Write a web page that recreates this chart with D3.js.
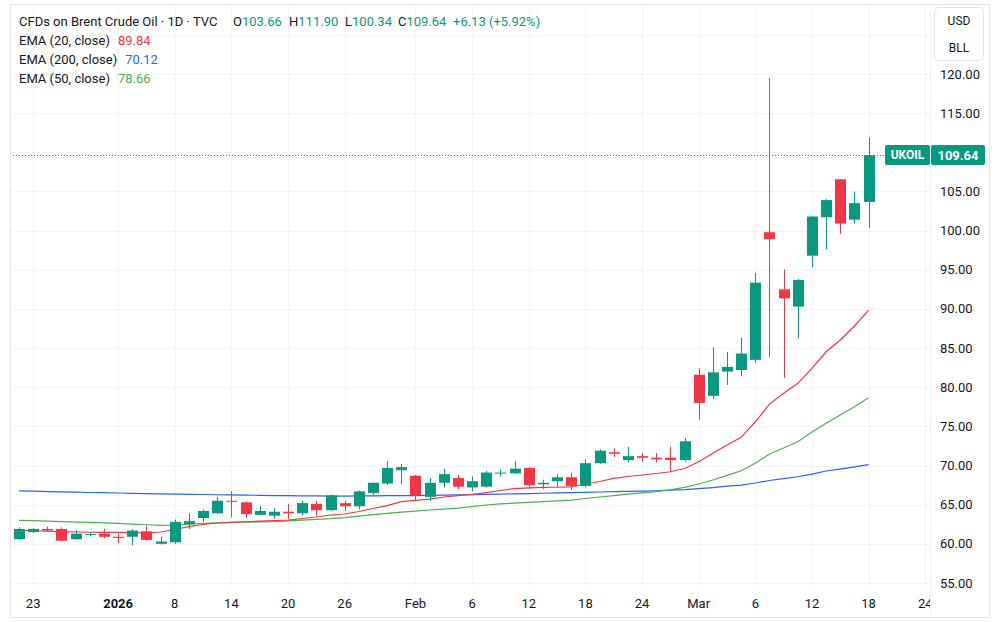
<!DOCTYPE html>
<html>
<head>
<meta charset="utf-8">
<script src="https://cdn.jsdelivr.net/npm/d3@7"></script>
<style>
body{margin:0;background:#ffffff;}
svg{display:block;font-family:Roboto,"Noto Sans",sans-serif;}
</style>
</head>
<body>
<svg id="chart" width="1000" height="622"></svg>
<script>

// chart values
// --------------------------------------------
var dates = ["2025-12-22","2025-12-23","2025-12-24","2025-12-26","2025-12-29","2025-12-30","2025-12-31",
	"2026-01-02","2026-01-05","2026-01-06","2026-01-07","2026-01-08","2026-01-09","2026-01-12","2026-01-13",
	"2026-01-14","2026-01-15","2026-01-16","2026-01-19","2026-01-20","2026-01-21","2026-01-22","2026-01-23",
	"2026-01-26","2026-01-27","2026-01-28","2026-01-29","2026-01-30","2026-02-02","2026-02-03","2026-02-04",
	"2026-02-05","2026-02-06","2026-02-09","2026-02-10","2026-02-11","2026-02-12","2026-02-13","2026-02-16",
	"2026-02-17","2026-02-18","2026-02-19","2026-02-20","2026-02-23","2026-02-24","2026-02-25","2026-02-26",
	"2026-02-27","2026-03-02","2026-03-03","2026-03-04","2026-03-05","2026-03-06","2026-03-09","2026-03-10",
	"2026-03-11","2026-03-12","2026-03-13","2026-03-16","2026-03-17","2026-03-18"];

var opens  = [60.6,61.5,61.9,61.9,60.6,61.15,61.3,60.9,60.9,61.6,
	60.0,60.2,62.5,63.3,63.9,65.5,65.3,63.7,63.6,64.1,
	63.9,65.1,64.3,65.2,64.8,66.5,67.7,69.4,68.7,66.0,
	67.8,68.4,67.2,67.3,69.0,69.0,69.7,67.6,68.0,68.5,
	67.4,70.3,71.7,70.7,71.2,71.0,71.0,70.7,81.6,78.9,
	82.0,82.2,83.5,99.8,92.5,90.3,96.8,101.7,106.55,101.4,
	103.66];
var highs  = [62.1,62.0,62.2,62.1,61.8,61.5,61.9,61.3,61.9,62.3,
	60.9,63.1,63.9,64.4,66.0,66.7,65.4,64.8,64.6,65.1,
	65.5,65.5,66.3,65.5,66.8,67.8,70.6,70.2,68.8,68.4,
	69.6,68.8,68.6,69.3,69.5,70.6,69.8,68.2,68.9,69.1,
	70.8,72.1,72.2,72.4,71.6,71.6,72.4,73.5,82.4,85.1,
	84.5,86.3,94.6,119.5,95.05,93.8,101.9,104.0,106.6,105.0,
	111.90];
var lows   = [60.5,61.4,61.6,60.3,60.5,61.0,60.7,60.1,59.8,60.4,
	59.9,60.0,61.9,62.8,63.8,63.4,63.3,63.6,63.2,63.2,
	63.6,63.6,64.2,64.2,64.4,66.2,67.5,67.6,65.5,65.5,
	67.2,67.0,66.7,67.2,68.6,68.9,67.0,67.0,67.3,66.9,
	67.2,70.2,71.1,70.4,70.5,70.4,69.2,70.5,75.8,78.5,
	80.3,81.4,83.1,83.8,81.2,86.25,95.3,97.65,99.6,100.9,
	100.34];
var closes = [61.9,61.9,61.7,60.4,61.3,61.25,60.9,60.75,61.7,60.5,
	60.3,62.8,62.9,64.2,65.5,65.4,63.8,64.2,64.1,63.9,
	65.2,64.3,66.2,64.8,66.7,67.8,69.7,69.8,66.2,67.8,
	68.9,67.3,68.0,69.1,69.1,69.6,67.5,67.8,68.5,67.4,
	70.3,71.9,71.5,71.2,71.0,70.8,70.7,73.1,78.0,81.9,
	82.6,84.3,93.35,98.9,91.35,93.7,101.8,103.9,100.9,103.51,
	109.64];

var ema20  = [61.72,61.67,61.61,61.56,61.51,61.48,61.47,61.47,61.44,61.42,
	61.51,61.83,62.21,62.47,62.66,62.73,62.82,62.91,62.98,63.04,
	63.24,63.43,63.68,63.81,64.13,64.51,64.89,65.38,65.56,65.72,
	65.98,66.15,66.32,66.55,66.81,67.06,67.15,67.21,67.23,67.28,
	67.64,67.96,68.37,68.60,68.79,68.98,69.21,69.62,70.49,71.56,
	72.62,73.60,75.59,77.85,79.22,80.50,82.41,84.53,86.03,87.82,
	89.84];
var ema200 = [66.76,66.72,66.68,66.64,66.60,66.56,66.53,66.49,66.45,66.42,
	66.38,66.36,66.32,66.30,66.27,66.25,66.22,66.20,66.17,66.15,
	66.13,66.12,66.10,66.10,66.12,66.13,66.15,66.16,66.17,66.20,
	66.22,66.25,66.27,66.31,66.35,66.38,66.42,66.46,66.50,66.54,
	66.58,66.62,66.66,66.69,66.73,66.78,66.85,66.92,67.05,67.19,
	67.36,67.51,67.77,68.09,68.34,68.57,68.91,69.30,69.55,69.83,
	70.12];
var ema50  = [63.01,62.96,62.91,62.85,62.78,62.73,62.68,62.62,62.53,62.44,
	62.37,62.40,62.50,62.62,62.68,62.73,62.78,62.81,62.85,62.94,
	63.04,63.13,63.22,63.36,63.55,63.74,63.90,64.06,64.19,64.32,
	64.44,64.57,64.76,64.96,65.11,65.21,65.30,65.40,65.49,65.59,
	65.79,65.98,66.17,66.36,66.51,66.68,66.91,67.22,67.64,68.15,
	68.75,69.34,70.28,71.47,72.24,73.04,74.28,75.39,76.45,77.51,
	78.66];

var priceTicks = [55,60,65,70,75,80,85,90,95,100,105,110,115,120,125];
var timeTickDates  = ["2025-12-23","2026-01-02","2026-01-08","2026-01-14","2026-01-20","2026-01-26",
	"2026-02-02","2026-02-06","2026-02-12","2026-02-18","2026-02-24","2026-03-02","2026-03-06",
	"2026-03-12","2026-03-18","2026-03-24"];
var timeTickLabels = ["23","2026","8","14","20","26","Feb","6","12","18","24","Mar","6","12","18","24"];
var boldLabels = ["2026"];

var szUp    = "#089981";
var szDown  = "#f23645";
var szText  = "#131722";
var szGrid  = "#f0f3fa";
var szFrame = "#e0e3eb";

// pane geometry
// -------------
var paneL = 10, paneR = 930, paneT = 4, paneB = 586;

var svg = d3.select("#chart");

// bar index of a date, future dates counted in weekdays
// -----------------------------------------------------
function barIndex(szDate){
	var i = dates.indexOf(szDate);
	if ( i >= 0 ){
		return i;
	}
	var d = new Date(dates[dates.length-1]+"T00:00:00Z");
	var end = new Date(szDate+"T00:00:00Z");
	i = dates.length-1;
	while ( d < end ){
		d.setUTCDate(d.getUTCDate()+1);
		if ( d.getUTCDay() != 0 && d.getUTCDay() != 6 ){
			i++;
		}
	}
	return i;
}

var x = d3.scaleLinear().domain([0, dates.length-1]).range([19, 868.6]);
var y = d3.scaleLinear().domain([55, 120]).range([583, 74]);

// clip
// ----
var defs = svg.append("defs");
defs.append("clipPath").attr("id","pane")
	.append("rect")
	.attr("x", paneL).attr("y", paneT)
	.attr("width", paneR-paneL).attr("height", paneB-paneT);
defs.append("clipPath").attr("id","timeclip")
	.append("rect")
	.attr("x", paneL).attr("y", paneB)
	.attr("width", paneR-paneL).attr("height", 30);

// grid
// ----
var grid = svg.append("g").attr("clip-path","url(#pane)");

grid.selectAll("line.h").data(priceTicks).enter().append("line")
	.attr("class","h")
	.attr("x1", paneL).attr("x2", paneR)
	.attr("y1", function(d){ return Math.round(y(d))+0.5; })
	.attr("y2", function(d){ return Math.round(y(d))+0.5; })
	.attr("style","stroke:"+szGrid+";stroke-width:1;");

var timeTicks = timeTickDates.map(function(d,i){
	return {idx:barIndex(d), label:timeTickLabels[i]};
});

grid.selectAll("line.v").data(timeTicks).enter().append("line")
	.attr("class","v")
	.attr("x1", function(d){ return Math.round(x(d.idx))+0.5; })
	.attr("x2", function(d){ return Math.round(x(d.idx))+0.5; })
	.attr("y1", paneT).attr("y2", paneB)
	.attr("style","stroke:"+szGrid+";stroke-width:1;");

// moving averages
// ---------------
var plot = svg.append("g").attr("clip-path","url(#pane)");

var line = d3.line()
	.x(function(d,i){ return x(i); })
	.y(function(d){ return y(d); });

[[ema200,"#2962ff"],[ema50,"#4caf50"],[ema20,"#f23645"]].forEach(function(s){
	plot.append("path")
		.datum(s[0])
		.attr("d", line)
		.attr("style","fill:none;stroke:"+s[1]+";stroke-width:1.2;");
});

// last price dotted line
// ----------------------
var nLast = closes[closes.length-1];
plot.append("line")
	.attr("x1", paneL).attr("x2", 885)
	.attr("y1", Math.round(y(nLast))+0.5).attr("y2", Math.round(y(nLast))+0.5)
	.attr("style","stroke:"+szUp+";stroke-width:1;stroke-dasharray:1,2;");

// candles
// -------
var candles = plot.selectAll("g.candle").data(dates).enter().append("g")
	.attr("class","candle");

candles.append("line")
	.attr("x1", function(d,i){ return Math.round(x(i))+0.5; })
	.attr("x2", function(d,i){ return Math.round(x(i))+0.5; })
	.attr("y1", function(d,i){ return y(highs[i]); })
	.attr("y2", function(d,i){ return y(lows[i]); })
	.attr("style", function(d,i){
		return "stroke:"+(closes[i]>=opens[i]?szUp:szDown)+";stroke-width:1;";
	});

candles.append("rect")
	.attr("x", function(d,i){ return Math.round(x(i))-5; })
	.attr("width", 11)
	.attr("y", function(d,i){ return y(Math.max(opens[i],closes[i])); })
	.attr("height", function(d,i){ return Math.max(1, Math.abs(y(opens[i])-y(closes[i]))); })
	.attr("style", function(d,i){
		return "fill:"+(closes[i]>=opens[i]?szUp:szDown)+";stroke:none;";
	});

// frame and axis separators
// -------------------------
svg.append("rect")
	.attr("x", paneL+0.5).attr("y", paneT+0.5)
	.attr("width", 989-paneL).attr("height", 617-paneT)
	.attr("style","fill:none;stroke:"+szFrame+";stroke-width:1;");

svg.append("line")
	.attr("x1", paneR+0.5).attr("x2", paneR+0.5)
	.attr("y1", paneT).attr("y2", 617)
	.attr("style","stroke:"+szGrid+";stroke-width:1;");

// price axis labels
// -----------------
var yLastLabel = y(nLast);
svg.append("g").selectAll("text").data(priceTicks.filter(function(d){
		return d <= 120 && Math.abs(y(d)-yLastLabel) > 12;
	})).enter().append("text")
	.attr("x", 940)
	.attr("y", function(d){ return y(d); })
	.attr("dy","0.35em")
	.attr("style","font-size:13px;fill:"+szText+";")
	.text(function(d){ return d.toFixed(2); });

// time axis labels
// ----------------
svg.append("g").attr("clip-path","url(#timeclip)")
	.selectAll("text").data(timeTicks).enter().append("text")
	.attr("x", function(d){ return x(d.idx); })
	.attr("y", 603)
	.attr("dy","0.35em")
	.attr("text-anchor","middle")
	.attr("style", function(d){
		return "font-size:13px;fill:"+szText+";font-weight:"+(boldLabels.indexOf(d.label)>=0?"bold":"normal")+";";
	})
	.text(function(d){ return d.label; });

// last price label
// ----------------
var nLabelY = Math.round(y(nLast)) - 10;
svg.append("rect")
	.attr("x", 885).attr("y", nLabelY).attr("width", 45).attr("height", 20).attr("rx", 2)
	.attr("style","fill:"+szUp+";");
svg.append("rect")
	.attr("x", 931).attr("y", nLabelY).attr("width", 54).attr("height", 20).attr("rx", 2)
	.attr("style","fill:"+szUp+";");
svg.append("text")
	.attr("x", 907.5).attr("y", nLabelY+10).attr("dy","0.35em").attr("text-anchor","middle")
	.attr("style","font-size:12px;font-weight:bold;fill:#ffffff;")
	.text("UKOIL");
svg.append("text")
	.attr("x", 958).attr("y", nLabelY+10).attr("dy","0.35em").attr("text-anchor","middle")
	.attr("style","font-size:13px;font-weight:bold;fill:#ffffff;")
	.text(nLast.toFixed(2));

// currency / unit box
// -------------------
svg.append("rect")
	.attr("x", 934.5).attr("y", 7.5).attr("width", 49).attr("height", 53).attr("rx", 4)
	.attr("style","fill:#ffffff;stroke:"+szFrame+";stroke-width:1;");
svg.append("text")
	.attr("x", 959).attr("y", 21).attr("dy","0.35em").attr("text-anchor","middle")
	.attr("style","font-size:12px;fill:"+szText+";")
	.text("USD");
svg.append("text")
	.attr("x", 959).attr("y", 48).attr("dy","0.35em").attr("text-anchor","middle")
	.attr("style","font-size:12px;fill:"+szText+";")
	.text("BLL");

// legend
// ------
var n = closes.length-1;
var nChange = closes[n]-closes[n-1];
var szHead = "font-size:13px;fill:"+szText+";";

svg.append("text")
	.attr("x", 19).attr("y", 21).attr("dy","0.35em")
	.attr("style", szHead)
	.text("CFDs on Brent Crude Oil \u00b7 1D \u00b7 TVC");

var ohlc = [["O",opens[n],233],["H",highs[n],289],["L",lows[n],345],["C",closes[n],398]];
ohlc.forEach(function(p){
	var t = svg.append("text")
		.attr("x", p[2]).attr("y", 21).attr("dy","0.35em")
		.attr("style", szHead);
	t.append("tspan").text(p[0]);
	t.append("tspan").attr("style","fill:"+szUp+";").text(p[1].toFixed(2));
});
svg.append("text")
	.attr("x", 453).attr("y", 21).attr("dy","0.35em")
	.attr("style","font-size:13px;fill:"+szUp+";")
	.text("+"+nChange.toFixed(2)+" (+"+(nChange/closes[n-1]*100).toFixed(2)+"%)");

var legend = [["EMA (20, close)", ema20[n], "#f23645"],
	["EMA (200, close)", ema200[n], "#2962ff"],
	["EMA (50, close)", ema50[n], "#4caf50"]];
legend.forEach(function(l,i){
	var t = svg.append("text")
		.attr("x", 19).attr("y", 40.5+i*19).attr("dy","0.35em")
		.attr("style", szHead);
	t.append("tspan").text(l[0]);
	t.append("tspan").attr("dx",8).attr("style","fill:"+l[2]+";").text(l[1].toFixed(2));
});

</script>
</body>
</html>
